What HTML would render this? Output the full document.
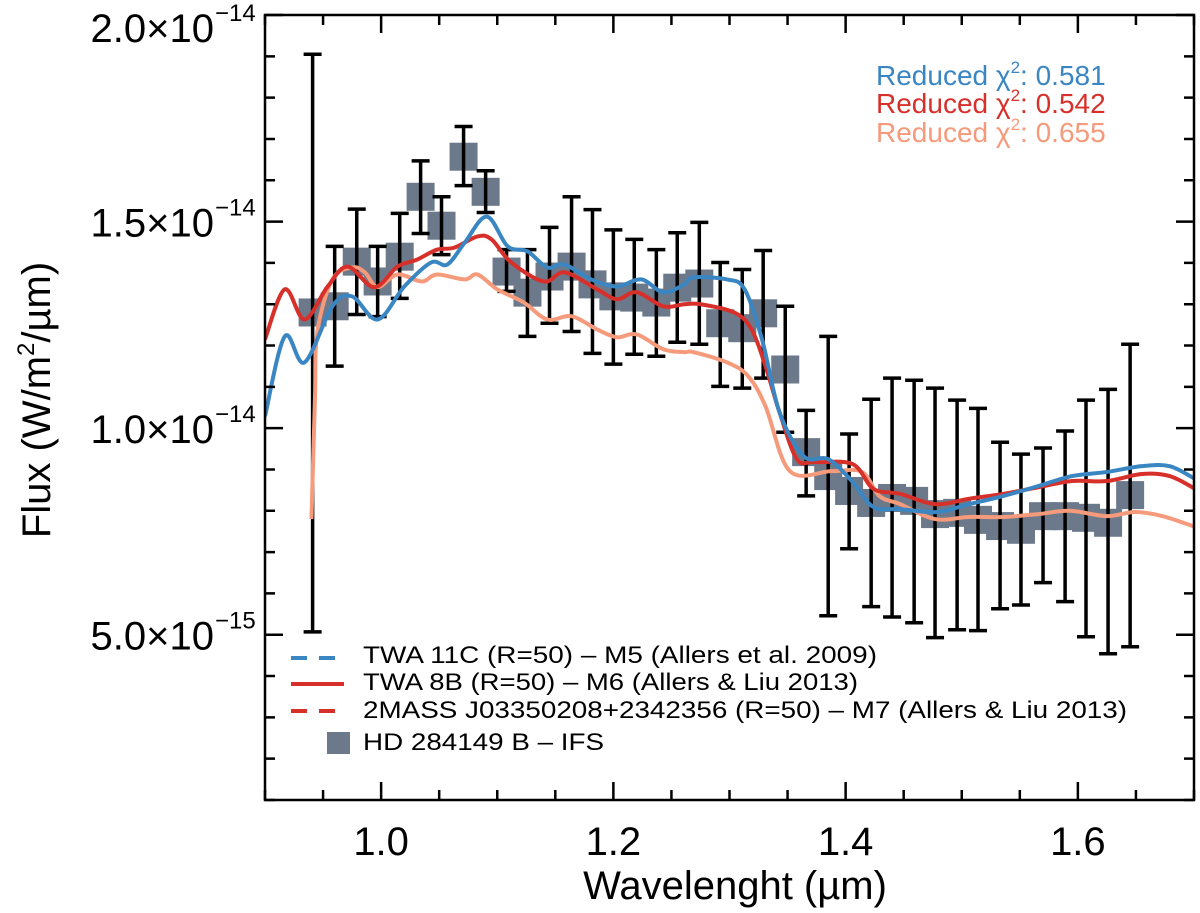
<!DOCTYPE html>
<html><head><meta charset="utf-8"><style>
html,body{margin:0;padding:0;background:#fff;}
svg{display:block;font-family:"Liberation Sans",Arial,sans-serif;}
</style></head><body>
<svg id="chart" width="1200" height="913" viewBox="0 0 1200 913">
<defs><clipPath id="plotclip"><rect x="265" y="15" width="929" height="785"/></clipPath></defs>
<g id="plot" clip-path="url(#plotclip)"></g>
<g id="axes"></g>
</svg>
<script>
const dataWave=[0.941,0.960,0.979,0.997,1.016,1.034,1.052,1.071,1.090,1.108,1.126,1.145,1.164,1.182,1.200,1.218,1.237,1.255,1.274,1.292,1.311,1.329,1.348,1.366,1.385,1.403,1.422,1.440,1.459,1.477,1.496,1.514,1.533,1.551,1.570,1.589,1.607,1.626,1.645];
const dataFlux=[1.280,1.295,1.403,1.355,1.415,1.560,1.490,1.657,1.572,1.379,1.328,1.367,1.391,1.348,1.319,1.316,1.304,1.340,1.350,1.254,1.242,1.278,1.142,0.942,0.884,0.848,0.819,0.831,0.824,0.792,0.795,0.778,0.763,0.754,0.787,0.787,0.783,0.771,0.838];
const errHi=[1.905,1.44,1.53,1.44,1.52,1.647,1.56,1.73,1.623,1.432,1.432,1.486,1.56,1.529,1.48,1.457,1.432,1.473,1.498,1.401,1.384,1.430,1.295,1.043,1.222,0.986,1.07,1.121,1.116,1.097,1.068,1.048,0.966,0.937,0.952,0.993,1.068,1.094,1.203];
const errLo=[0.507,1.15,1.275,1.27,1.314,1.471,1.42,1.587,1.522,1.331,1.222,1.254,1.234,1.181,1.155,1.179,1.174,1.208,1.203,1.101,1.097,1.121,0.990,0.836,0.546,0.708,0.568,0.543,0.529,0.493,0.512,0.510,0.563,0.572,0.626,0.580,0.495,0.454,0.471];

const blueWave=[0.900,0.917,0.934,0.958,0.975,0.997,1.020,1.043,1.057,1.072,1.091,1.109,1.126,1.143,1.158,1.181,1.203,1.224,1.243,1.261,1.269,1.298,1.313,1.328,1.343,1.364,1.385,1.406,1.424,1.447,1.479,1.506,1.536,1.566,1.595,1.625,1.655,1.679,1.701];
const blueFlux=[1.029,1.222,1.159,1.295,1.319,1.263,1.343,1.401,1.396,1.449,1.512,1.440,1.428,1.389,1.396,1.360,1.343,1.360,1.329,1.348,1.365,1.360,1.336,1.215,1.039,0.932,0.925,0.870,0.809,0.804,0.797,0.816,0.836,0.860,0.884,0.894,0.908,0.908,0.877];
const redWave=[0.900,0.917,0.934,0.954,0.971,0.994,1.014,1.031,1.048,1.063,1.083,1.095,1.112,1.140,1.158,1.186,1.203,1.220,1.243,1.261,1.275,1.304,1.319,1.331,1.343,1.358,1.373,1.406,1.424,1.447,1.477,1.506,1.536,1.566,1.595,1.625,1.655,1.679,1.701];
const redFlux=[1.215,1.336,1.263,1.343,1.391,1.341,1.391,1.408,1.432,1.437,1.464,1.457,1.401,1.355,1.377,1.336,1.312,1.329,1.295,1.300,1.300,1.280,1.239,1.150,1.039,0.925,0.918,0.913,0.853,0.841,0.816,0.829,0.841,0.857,0.872,0.872,0.889,0.884,0.853];
const salmonWave=[0.940,0.943,0.945,0.958,0.975,0.986,0.997,1.014,1.035,1.048,1.072,1.083,1.100,1.123,1.143,1.164,1.186,1.203,1.220,1.243,1.261,1.269,1.298,1.316,1.331,1.352,1.388,1.414,1.429,1.447,1.477,1.506,1.536,1.566,1.593,1.625,1.649,1.673,1.701];
const salmonFlux=[0.780,1.070,1.232,1.360,1.389,1.377,1.341,1.372,1.355,1.372,1.360,1.372,1.336,1.304,1.263,1.271,1.239,1.220,1.227,1.191,1.184,1.184,1.159,1.126,1.053,0.896,0.896,0.894,0.836,0.816,0.780,0.785,0.785,0.792,0.800,0.787,0.797,0.787,0.761];

const xTicks=[1.0,1.2,1.4,1.6];
const xTickLabels=["1.0","1.2","1.4","1.6"];
const yTicks=[2.0,1.5,1.0,0.5];
const yTickMant=["2.0","1.5","1.0","5.0"];
const yTickExp=["\u221214","\u221214","\u221214","\u221215"];

const X0=265,X1=1194,Y0=15,Y1=800;
const xMin=0.9,xMax=1.7,yMin=0.1,yMax=2.0;
function sx(v){return X0+(v-xMin)/(xMax-xMin)*(X1-X0);}
function sy(v){return Y1-(v-yMin)/(yMax-yMin)*(Y1-Y0);}
const NS="http://www.w3.org/2000/svg";
const plot=document.getElementById('plot');
const axes=document.getElementById('axes');
const svg=document.getElementById('chart');
function mk(tag,attrs,parent){const e=document.createElementNS(NS,tag);for(const k in attrs)e.setAttribute(k,attrs[k]);parent.appendChild(e);return e;}

// squares
for(let i=0;i<dataWave.length;i++){
  const r=mk('rect',{x:sx(dataWave[i])-14,y:sy(dataFlux[i])-14,width:28,height:28,fill:'#6c798b'},plot);
  
  
}
// error bars
for(let i=0;i<dataWave.length;i++){
  const x=sx(dataWave[i]),yh=sy(errHi[i]),yl=sy(errLo[i]);
  const g=mk('path',{d:`M${x},${yh}V${yl}M${x-9},${yh}H${x+9}M${x-9},${yl}H${x+9}`,stroke:'#000','stroke-width':3.5,fill:'none'},plot);
  
  
}
function smooth(wx,fy){
  const p=wx.map((w,i)=>[sx(w),sy(fy[i])]);
  let d=`M${p[0][0]},${p[0][1]}`;
  for(let i=0;i<p.length-1;i++){
    const p0=p[Math.max(i-1,0)],p1=p[i],p2=p[i+1],p3=p[Math.min(i+2,p.length-1)];
    const c1=[p1[0]+(p2[0]-p0[0])/6,p1[1]+(p2[1]-p0[1])/6];
    const c2=[p2[0]-(p3[0]-p1[0])/6,p2[1]-(p3[1]-p1[1])/6];
    d+=`C${c1[0]},${c1[1]} ${c2[0]},${c2[1]} ${p2[0]},${p2[1]}`;
  }
  return d;
}
const salmon=mk('path',{d:smooth(salmonWave,salmonFlux),stroke:'#f59a7b','stroke-width':4,fill:'none'},plot);


const red=mk('path',{d:smooth(redWave,redFlux),stroke:'#d7302a','stroke-width':4,fill:'none'},plot);


const blue=mk('path',{d:smooth(blueWave,blueFlux),stroke:'#3a86c3','stroke-width':4,fill:'none'},plot);



// frame
const frame=mk('rect',{x:X0,y:Y0,width:X1-X0,height:Y1-Y0,fill:'none',stroke:'#000','stroke-width':2.5},axes);


// x ticks
for(let k=0;k<=16;k++){
  const v=0.9+k*0.05,x=sx(v),major=(k%4===2);const L=major?18:10;
  const t=mk('path',{d:`M${x},${Y1}V${Y1-L}M${x},${Y0}V${Y0+L}`,stroke:'#000','stroke-width':2.5},axes);
  
  
}
for(let i=0;i<xTicks.length;i++){
  const t=mk('text',{x:sx(xTicks[i]),y:855,'font-size':40,'text-anchor':'middle',fill:'#000'},axes);
  t.textContent=xTickLabels[i];
  
  
}
// y ticks
for(let k=1;k<=20;k++){
  const v=k*0.1;if(v<yMin-1e-9||v>yMax+1e-9)continue;
  const y=sy(v),major=(k%5===0);const L=major?18:10;
  const t=mk('path',{d:`M${X0},${y}H${X0+L}M${X1},${y}H${X1-L}`,stroke:'#000','stroke-width':2.5},axes);
  
  
}
for(let i=0;i<yTicks.length;i++){
  const y=sy(yTicks[i]);const base=(i===0)?42:y+15;
  const t=mk('text',{x:214,y:base,'font-size':40,'text-anchor':'end',fill:'#000'},axes);
  t.textContent=yTickMant[i]+"\u00d710";
  
  
  const s=mk('text',{x:215,y:base-21,'font-size':24,fill:'#000'},axes);
  s.textContent=yTickExp[i];
  
  
}
</script>
<svg width="1200" height="913" viewBox="0 0 1200 913" style="position:absolute;left:0;top:0;font-family:'Liberation Sans',Arial,sans-serif">
<text x="735" y="899" font-size="40" text-anchor="middle">Wavelenght (µm)</text>
<text transform="translate(50,400) rotate(-90)" font-size="40" text-anchor="middle">Flux (W/m<tspan font-size="24" dy="-16">2</tspan><tspan dy="16">/µm)</tspan></text>
<g font-size="28">
<text x="876" y="85" fill="#3a86c3">Reduced χ<tspan font-size="17" dy="-12">2</tspan><tspan dy="12">: 0.581</tspan></text>
<text x="876" y="113" fill="#d7302a">Reduced χ<tspan font-size="17" dy="-12">2</tspan><tspan dy="12">: 0.542</tspan></text>
<text x="876" y="142" fill="#f59a7b">Reduced χ<tspan font-size="17" dy="-12">2</tspan><tspan dy="12">: 0.655</tspan></text>
</g>
<g>
<g>
<path d="M291,658H344" stroke="#3a86c3" stroke-width="4" stroke-dasharray="16,12"/>
<text x="363" y="663" font-size="24" textLength="514" lengthAdjust="spacingAndGlyphs">TWA 11C (R=50) – M5 (Allers et al. 2009)</text>
</g>
<g>
<path d="M291,684H344" stroke="#d7302a" stroke-width="4"/>
<text x="363" y="690" font-size="24" textLength="495" lengthAdjust="spacingAndGlyphs">TWA 8B (R=50) – M6 (Allers &amp; Liu 2013)</text>
</g>
<g>
<path d="M291,711H344" stroke="#d7302a" stroke-width="4" stroke-dasharray="16,12"/>
<text x="363" y="718" font-size="24" textLength="764" lengthAdjust="spacingAndGlyphs">2MASS J03350208+2342356 (R=50) – M7 (Allers &amp; Liu 2013)</text>
</g>
<g>
<rect x="327" y="732" width="23" height="22" fill="#6c798b"/>
<text x="363" y="750" font-size="24" textLength="241" lengthAdjust="spacingAndGlyphs">HD 284149 B – IFS</text>
</g>
</g>
</svg>
</body></html>
